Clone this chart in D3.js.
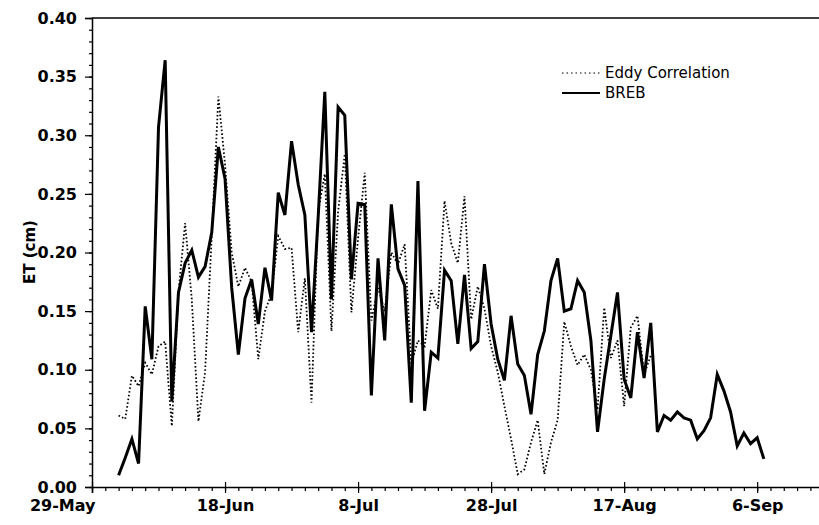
<!DOCTYPE html>
<html>
<head>
<meta charset="utf-8">
<script src="https://cdn.jsdelivr.net/npm/d3@7"></script>
<style>
body { margin: 0; background: #fff; }
svg { display: block; }
</style>
</head>
<body>
<div id="et_chart"></div>
<script>
// daily ET values (cm), first value is on the start date
const breebStart = "1998-06-02";
const breebValues = [
  0.010, 0.025, 0.041, 0.020, 0.154, 0.109, 0.307, 0.364, 0.073, 0.166,
  0.191, 0.202, 0.179, 0.188, 0.217, 0.290, 0.263, 0.170, 0.113, 0.161,
  0.177, 0.139, 0.187, 0.159, 0.251, 0.232, 0.295, 0.258, 0.232, 0.132,
  0.230, 0.337, 0.160, 0.324, 0.317, 0.177, 0.242, 0.241, 0.078, 0.195,
  0.125, 0.241, 0.186, 0.172, 0.072, 0.261, 0.065, 0.115, 0.110, 0.185,
  0.176, 0.122, 0.181, 0.118, 0.124, 0.190, 0.139, 0.109, 0.091, 0.146,
  0.105, 0.095, 0.062, 0.113, 0.133, 0.176, 0.195, 0.150, 0.152, 0.176,
  0.166, 0.125, 0.047, 0.092, 0.129, 0.166, 0.092, 0.076, 0.132, 0.093,
  0.140, 0.047, 0.061, 0.057, 0.064, 0.059, 0.057, 0.041, 0.048, 0.059,
  0.096, 0.082, 0.064, 0.035, 0.046, 0.037, 0.042, 0.024
];
const eddyStart = "1998-06-02";
const eddyValues = [
  0.061, 0.058, 0.095, 0.086, 0.106, 0.096, 0.120, 0.124, 0.052, 0.166,
  0.225, 0.160, 0.056, 0.098, 0.214, 0.333, 0.275, 0.200, 0.171, 0.187,
  0.175, 0.109, 0.150, 0.165, 0.214, 0.203, 0.204, 0.132, 0.178, 0.072,
  0.235, 0.267, 0.133, 0.235, 0.284, 0.149, 0.212, 0.268, 0.142, 0.170,
  0.150, 0.200, 0.190, 0.207, 0.105, 0.125, 0.120, 0.168, 0.152, 0.244,
  0.208, 0.191, 0.248, 0.143, 0.171, 0.152, 0.120, 0.098, 0.069, 0.041,
  0.011, 0.015, 0.038, 0.057, 0.011, 0.038, 0.057, 0.141, 0.120, 0.104,
  0.113, 0.100, 0.066, 0.153, 0.110, 0.125, 0.069, 0.136, 0.146, 0.096,
  0.112
];
const tickDates = ["1998-05-29", "1998-06-18", "1998-07-08", "1998-07-28", "1998-08-17", "1998-09-06"];
const axisEnd = "1998-09-18";
const yTicks = [0, 0.05, 0.10, 0.15, 0.20, 0.25, 0.30, 0.35, 0.40];
const seriesNames = ["Eddy Correlation", "BREB"];

(function chart(){
    const parse = d3.timeParse("%Y-%m-%d");
    const toSeries = (start, values) => values.map((v, i) => ({
        date: d3.timeDay.offset(parse(start), i),
        value: v
    }));

    const breeb = toSeries(breebStart, breebValues),
          eddy = toSeries(eddyStart, eddyValues);

    const width = 819,
          height = 525,
          margin = ({ top: 18, bottom: 38, left: 92 });

    const font = "'DejaVu Sans', sans-serif";

    let svg = d3.select("#et_chart")
        .append("svg")
        .attr("width", width)
        .attr("height", height)
        .attr("viewBox", [0, 0, width, height]);

    let x = d3.scaleTime()
        .domain([parse(tickDates[0]), parse(axisEnd)])
        .range([margin.left, 837]); // axis runs off the right edge

    let y = d3.scaleLinear()
        .domain([0, 0.4])
        .range([height - margin.bottom, margin.top]);

    // top frame line
    svg.append("line")
        .attr("x1", x.range()[0]).attr("x2", x.range()[1])
        .attr("y1", y(0.4)).attr("y2", y(0.4))
        .attr("stroke", "#000").attr("stroke-width", 1.5);

    // x minor ticks every 2 days
    svg.append("g")
        .attr("transform", `translate(0,${y(0)})`)
        .call(d3.axisBottom(x)
            .tickValues(d3.timeDay.range(x.domain()[0], x.domain()[1], 2))
            .tickSize(4)
            .tickFormat(""))
        .call(g => g.select(".domain").remove())
        .selectAll("line").attr("stroke-width", 1.2);

    // x major ticks
    let xAxis = svg.append("g")
        .attr("transform", `translate(0,${y(0)})`)
        .call(d3.axisBottom(x)
            .tickValues(tickDates.map(parse))
            .tickFormat(d3.timeFormat("%-d-%b"))
            .tickSizeOuter(0)
            .tickSize(6)
            .tickPadding(7));
    xAxis.select(".domain").attr("stroke-width", 1.5);
    xAxis.selectAll(".tick line").attr("y1", -5).attr("stroke-width", 1.2);
    xAxis.selectAll("text")
        .attr("font-family", font)
        .attr("font-size", 16)
        .attr("font-weight", "bold")
        .attr("fill", "#000");
    // first label sits left of its tick
    xAxis.select(".tick text")
        .attr("text-anchor", "end")
        .attr("dx", 3);

    // y minor ticks
    svg.append("g")
        .attr("transform", `translate(${margin.left},0)`)
        .call(d3.axisLeft(y).ticks(40).tickSize(3).tickFormat(""))
        .call(g => g.select(".domain").remove())
        .selectAll("line").attr("stroke-width", 1.2);

    let yAxis = svg.append("g")
        .attr("transform", `translate(${margin.left},0)`)
        .call(d3.axisLeft(y)
            .tickValues(yTicks)
            .tickFormat(d3.format(".2f"))
            .tickSizeOuter(0)
            .tickSize(7)
            .tickPadding(8));
    yAxis.select(".domain").attr("stroke-width", 1.5);
    yAxis.selectAll("line").attr("stroke-width", 1.2);
    yAxis.selectAll("text")
        .attr("font-family", font)
        .attr("font-size", 16)
        .attr("font-weight", "bold")
        .attr("fill", "#000");

    svg.append("text")
        .attr("transform", `translate(35,252) rotate(-90)`)
        .attr("text-anchor", "middle")
        .attr("font-family", font)
        .attr("font-size", 15)
        .attr("font-weight", "bold")
        .text("ET (cm)");

    let line = d3.line()
        .x(d => x(d.date))
        .y(d => y(d.value));

    svg.append("path")
        .datum(eddy)
        .attr("fill", "none")
        .attr("stroke", "#000")
        .attr("stroke-width", 1.8)
        .attr("stroke-dasharray", "1.6,2.2")
        .attr("d", line);

    svg.append("path")
        .datum(breeb)
        .attr("fill", "none")
        .attr("stroke", "#000")
        .attr("stroke-width", 3)
        .attr("stroke-linejoin", "miter")
        .attr("d", line);

    // legend
    let legend = svg.append("g")
        .selectAll("g")
        .data(seriesNames)
        .join("g")
        .attr("transform", (d, i) => `translate(562,${73 + i * 20})`);

    legend.append("line")
        .attr("x2", 38)
        .attr("stroke", "#000")
        .attr("stroke-width", (d, i) => i ? 2 : 1.2)
        .attr("stroke-dasharray", (d, i) => i ? null : "1.5,3");

    legend.append("text")
        .attr("x", 43)
        .attr("dy", "0.36em")
        .attr("font-family", font)
        .attr("font-size", 15)
        .text(d => d);
})();
</script>
</body>
</html>
